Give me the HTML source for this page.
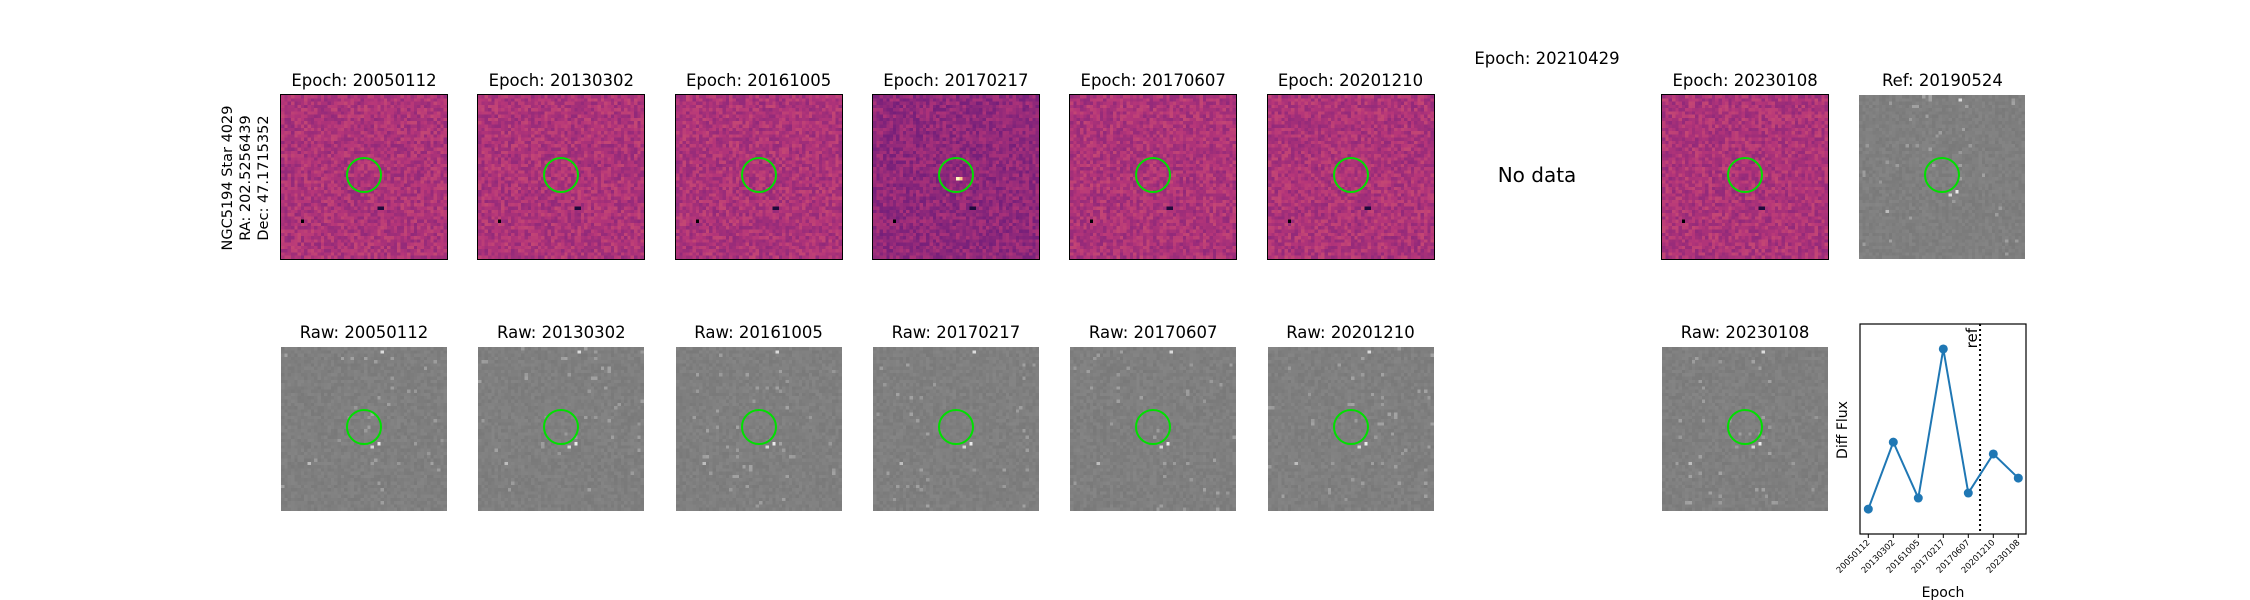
<!DOCTYPE html>
<html><head><meta charset="utf-8"><style>
body{margin:0;background:#fff;width:2250px;height:600px;overflow:hidden;position:relative;font-family:"DejaVu Sans","Liberation Sans",sans-serif}
.t{position:absolute;font-size:16.5px;color:#000;text-align:center;width:240px;white-space:nowrap}
canvas{position:absolute}
.ring{position:absolute;width:32px;height:32px;border:2px solid #00e000;border-radius:50%}
</style></head><body>
<div style="position:absolute;left:246px;top:178px;transform:translate(-50%,-50%) rotate(-90deg);font-size:14.5px;line-height:18px;text-align:center;white-space:nowrap">NGC5194 Star 4029<br>RA: 202.5256439<br>Dec: 47.1715352</div>
<div class="t" style="left:1427px;top:49px">Epoch: 20210429</div>
<div style="position:absolute;left:1437px;top:163px;width:200px;text-align:center;font-size:20px">No data</div>
<div id="root"></div>
<svg id="chart" width="2250" height="600" style="position:absolute;left:0;top:0"></svg>
<script>
const epochs=["20050112","20130302","20161005","20170217","20170607","20201210","20230108"];
const diffFlux=[0.95,3.5,1.37,7.05,1.56,3.05,2.13];
const refIndex=4.47;
const yMin=0,yMax=8;
const cols=[0,1,2,3,4,5,7];
const X0=281,DX=197.3,W=166,H=164;
let seed=12345;function rnd(){seed=(seed*1103515245+12345)%2147483648;return seed/2147483648;}
function magma(t){t=Math.max(0,Math.min(1,t));const s=[[0,0,4],[80,18,123],[182,54,121],[251,136,97],[252,253,191]];const p=t*4,i=Math.min(3,Math.floor(p)),f=p-i;return s[i].map((c,k)=>Math.round(c+(s[i+1][k]-c)*f));}
const root=document.getElementById('root');
function panel(x,y,title,kind,name,bright){
 const t=document.createElement('div');t.className='t';t.textContent=title;t.style.left=(x+W/2-120)+'px';t.style.top=(y-24)+'px';
 
 
 root.appendChild(t);
 const c=document.createElement('canvas');c.width=50;c.height=50;c.style.left=x+'px';c.style.top=y+'px';c.style.width=W+'px';c.style.height=H+'px';c.style.imageRendering='pixelated';
 
 
 if(kind==='diff'){c.style.outline='1px solid #000';}
 const g=c.getContext('2d');const im=g.createImageData(50,50);
 for(let i=0;i<2500;i++){let col;
  if(kind==='diff'){let v=(bright?0.41:0.48)+(rnd()-0.5)*0.14;col=magma(v);}
  else{let v=127+(rnd()-0.5)*12;if(rnd()<0.015)v+=30;col=[v,v,v];}
  im.data[i*4]=col[0];im.data[i*4+1]=col[1];im.data[i*4+2]=col[2];im.data[i*4+3]=255;}
 if(kind==='diff'){const put=(px,py,col)=>{const k=(py*50+px)*4;im.data[k]=col[0];im.data[k+1]=col[1];im.data[k+2]=col[2];};put(6,38,[0,0,4]);put(29,34,[30,10,60]);put(30,34,[30,10,60]);if(bright){put(25,25,[252,253,191]);put(26,25,[251,200,140]);}}
 else{const put=(px,py,v)=>{const k=(py*50+px)*4;im.data[k]=im.data[k+1]=im.data[k+2]=v;};put(29,29,235);put(27,30,215);put(30,1,220);put(8,35,190);}
 g.putImageData(im,0,0);root.appendChild(c);
 const r=document.createElement('div');r.className='ring';r.style.left=(x+W/2-18)+'px';r.style.top=(y+H/2-20)+'px';
 
 
 root.appendChild(r);
}
epochs.forEach((e,i)=>{const x=X0+cols[i]*DX;panel(x,95,'Epoch: '+e,'diff','diff-'+e,i===3);panel(x,347,'Raw: '+e,'raw','raw-'+e,false);});
panel(X0+8*DX,95,'Ref: 20190524','raw','ref',false);
const svg=document.getElementById('chart');const NS='http://www.w3.org/2000/svg';
const L=1860,R=2026,T=324,B=534;
const xs=i=>1868.3+i*25;const ys=v=>B-(v-yMin)/(yMax-yMin)*(B-T);
function el(tag,a,name){const e=document.createElementNS(NS,tag);for(const k in a)e.setAttribute(k,a[k]);
 
 
 svg.appendChild(e);return e;}
el('rect',{x:L,y:T,width:R-L,height:B-T,fill:'none',stroke:'#000','stroke-width':1.2},'plot-frame');
el('line',{x1:xs(refIndex),x2:xs(refIndex),y1:T,y2:B,stroke:'#000','stroke-width':2,'stroke-dasharray':'2,3'},'ref-line');
const rt=el('text',{x:0,y:0,'font-size':15,'text-anchor':'end',transform:`translate(${xs(refIndex)-3},${T+4}) rotate(-90)`},'ref-label');rt.textContent='ref';
el('polyline',{points:diffFlux.map((v,i)=>xs(i)+','+ys(v)).join(' '),fill:'none',stroke:'#1f77b4','stroke-width':2},'flux-line');
diffFlux.forEach((v,i)=>{el('circle',{cx:xs(i),cy:ys(v),r:4.5,fill:'#1f77b4'},'flux-point');
 el('line',{x1:xs(i),x2:xs(i),y1:B,y2:B+4,stroke:'#000'},'x-tick');
 const t=el('text',{'font-size':8.5,'text-anchor':'end',transform:`translate(${xs(i)+2},${B+9}) rotate(-45)`},'x-tick-label');t.textContent=epochs[i];});
const xl=el('text',{x:(L+R)/2,y:597,'font-size':14,'text-anchor':'middle'},'x-axis-title');xl.textContent='Epoch';
const yl=el('text',{'font-size':14,'text-anchor':'middle',transform:`translate(1847,430) rotate(-90)`},'y-axis-title');yl.textContent='Diff Flux';
</script>
</body></html>
